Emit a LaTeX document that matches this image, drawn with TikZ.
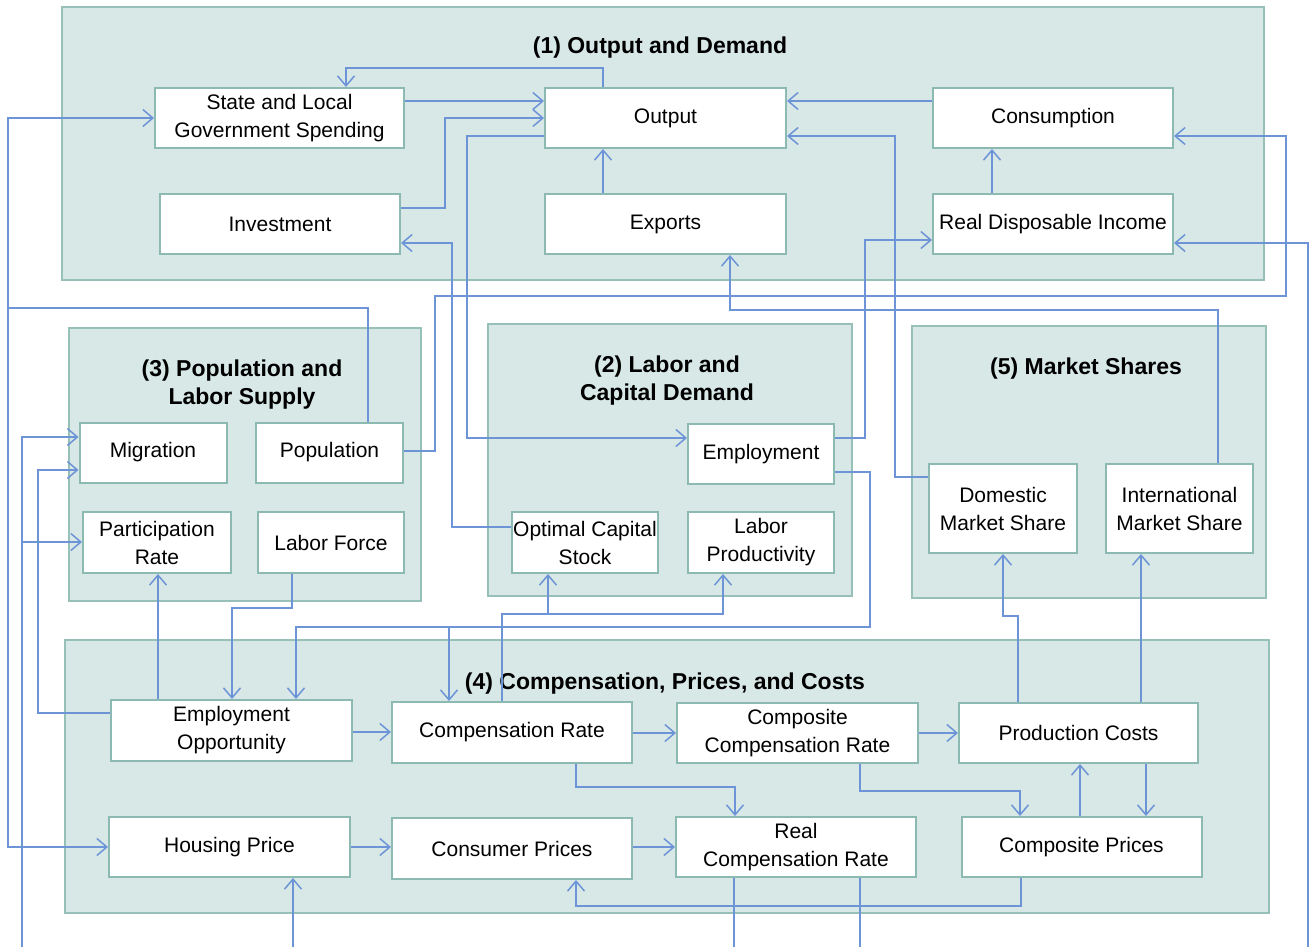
\documentclass[tikz,border=0pt]{standalone}
\usepackage{fontspec}
\setmainfont{Liberation Sans}
\usetikzlibrary{arrows.meta}
\definecolor{pfill}{RGB}{216,232,231}
\definecolor{pline}{RGB}{150,192,184}
\definecolor{bline}{RGB}{140,186,178}
\definecolor{conn}{RGB}{108,148,214}
\begin{document}
\begin{tikzpicture}[x=1pt,y=-1pt,
  panel/.style={draw=pline, fill=pfill, line width=2pt, inner sep=0pt},
  box/.style={draw=bline, fill=white, line width=2pt, inner sep=0pt, align=center, font=\fontsize{21}{28}\selectfont},
  ptitle/.style={font=\bfseries\fontsize{23}{28}\selectfont, align=center, inner sep=0pt},
  link/.style={draw=conn, line width=1.5pt, -{Straight Barb[length=10pt,width=17pt]}},
  plain/.style={draw=conn, line width=1.5pt}]
\useasboundingbox (0,0) rectangle (1310,947);
% panels
\node[panel, minimum width=1202pt, minimum height=273pt] (P1) at (663,143.5) {};
\node[panel, minimum width=352pt, minimum height=273pt] (P3) at (245,464.5) {};
\node[panel, minimum width=364pt, minimum height=272pt] (P2) at (670,460) {};
\node[panel, minimum width=354pt, minimum height=272pt] (P5) at (1089,462) {};
\node[panel, minimum width=1204pt, minimum height=273pt] (P4) at (667,776.5) {};
% titles
\node[ptitle] (T1) at (660,48) {(1) Output and Demand};
\node[ptitle] (T3) at (242,385) {(3) Population and\\Labor Supply};
\node[ptitle] (T2) at (667,381) {(2) Labor and\\Capital Demand};
\node[ptitle] (T5) at (1086,369) {(5) Market Shares};
\node[ptitle] (T4) at (665,684) {(4) Compensation, Prices, and Costs};
% boxes panel 1
\node[box, minimum width=249pt, minimum height=60pt] (slg) at (279.5,118) {State and Local\\Government Spending};
\node[box, minimum width=241pt, minimum height=60pt] (out) at (665.5,118) {Output};
\node[box, minimum width=240pt, minimum height=60pt] (cons) at (1053,118) {Consumption};
\node[box, minimum width=240pt, minimum height=60pt] (inv) at (280,224) {Investment};
\node[box, minimum width=241pt, minimum height=60pt] (exp) at (665.5,224) {Exports};
\node[box, minimum width=240pt, minimum height=60pt] (rdi) at (1053,224) {Real Disposable Income};
% panel 3
\node[box, minimum width=147pt, minimum height=60pt] (mig) at (153,452.5) {Migration};
\node[box, minimum width=147pt, minimum height=60pt] (pop) at (329.5,452.5) {Population};
\node[box, minimum width=148pt, minimum height=61pt] (part) at (157,542.5) {Participation\\Rate};
\node[box, minimum width=146pt, minimum height=61pt] (lf) at (331,542.5) {Labor Force};
% panel 2
\node[box, minimum width=146pt, minimum height=60pt] (emp) at (761,454) {Employment};
\node[box, minimum width=146pt, minimum height=61pt] (ocs) at (585,542.5) {Optimal Capital\\Stock};
\node[box, minimum width=146pt, minimum height=61pt] (lp) at (761,542.5) {Labor\\Productivity};
% panel 5
\node[box, minimum width=148pt, minimum height=89pt] (dms) at (1003,508.5) {Domestic\\Market Share};
\node[box, minimum width=147pt, minimum height=89pt] (ims) at (1179.5,508.5) {International\\Market Share};
% panel 4
\node[box, minimum width=241pt, minimum height=61pt] (eo) at (231.5,730.5) {Employment\\Opportunity};
\node[box, minimum width=240pt, minimum height=61pt] (cr) at (512,732.5) {Compensation Rate};
\node[box, minimum width=241pt, minimum height=60pt] (ccr) at (797.5,733) {Composite\\Compensation Rate};
\node[box, minimum width=239pt, minimum height=60pt] (pc) at (1078.5,733) {Production Costs};
\node[box, minimum width=241pt, minimum height=60pt] (hp) at (229.5,847) {Housing Price};
\node[box, minimum width=240pt, minimum height=61pt] (cp) at (512,848.5) {Consumer Prices};
\node[box, minimum width=240pt, minimum height=60pt] (rcr) at (796,847) {Real\\Compensation Rate};
\node[box, minimum width=240pt, minimum height=60pt] (cpr) at (1081.5,847) {Composite Prices};
% free ends at the picture's border
\coordinate (b1) at (22,947);
\coordinate (b2) at (293,947);
\coordinate (b3) at (734,947);
\coordinate (b4) at (860,947);
\coordinate (b5) at (1308,947);
\coordinate (j1) at (8,308);
\coordinate (j2) at (22,542);
\coordinate (j3) at (449,627);
\coordinate (j4) at (548,614);
% connectors panel 1
\draw[link] (out.north -| 603,0) -- (603,68) -- (346,68) -- (slg.north -| 346,0);
\draw[link] (slg.east |- 0,101) -- (out.west |- 0,101);
\draw[link] (inv.east |- 0,208) -- (445,208) -- (445,118) -- (out.west |- 0,118);
\draw[link] (out.west |- 0,136) -- (467,136) -- (467,438) -- (emp.west |- 0,438);
\draw[link] (ocs.west |- 0,527) -- (452,527) -- (452,243) -- (inv.east |- 0,243);
\draw[link] (cons.west |- 0,101) -- (out.east |- 0,101);
\draw[link] (dms.west |- 0,477) -- (895,477) -- (895,136) -- (out.east |- 0,136);
\draw[link] (rdi.north -| 992,0) -- (cons.south -| 992,0);
\draw[link] (pop.east |- 0,451) -- (435,451) -- (435,296) -- (1286,296) -- (1286,136) -- (cons.east |- 0,136);
\draw[link] (b5) -- (1308,243) -- (rdi.east |- 0,243);
\draw[link] (emp.east |- 0,438) -- (865,438) -- (865,240) -- (rdi.west |- 0,240);
\draw[link] (ims.north -| 1218,0) -- (1218,310) -- (730,310) -- (exp.south -| 730,0);
\draw[link] (exp.north -| 603,0) -- (out.south -| 603,0);
% left side
\draw[plain] (pop.north -| 368,0) -- (368,308) -- (j1);
\draw[link] (j1) |- (slg.west);
\draw[link] (j1) |- (hp.west);
\draw[link] (b1) -- (22,437) -- (mig.west |- 0,437);
\draw[link] (j2) -- (part.west |- j2);
\draw[link] (eo.west |- 0,713) -- (38,713) -- (38,470) -- (mig.west |- 0,470);
\draw[link] (eo.north -| 158,0) -- (part.south -| 158,0);
\draw[link] (lf.south -| 292,0) -- (292,608) -- (232,608) -- (eo.north -| 232,0);
\draw[link] (emp.east |- 0,472) -- (870,472) -- (870,627) -- (296,627) -- (eo.north -| 296,0);
\draw[link] (j3) -- (cr.north -| j3);
\draw[link] (cr.north -| 502,0) -- (502,614) -- (723,614) -- (lp.south -| 723,0);
\draw[link] (j4) -- (ocs.south -| j4);
% panel 4
\draw[link] (eo.east |- 0,732) -- (cr.west |- 0,732);
\draw[link] (cr.east |- 0,733) -- (ccr.west |- 0,733);
\draw[link] (ccr.east |- 0,733) -- (pc.west |- 0,733);
\draw[link] (cr.south -| 576,0) -- (576,787) -- (735,787) -- (rcr.north -| 735,0);
\draw[link] (ccr.south -| 860,0) -- (860,791) -- (1020,791) -- (cpr.north -| 1020,0);
\draw[link] (cpr.north -| 1080,0) -- (pc.south -| 1080,0);
\draw[link] (pc.south -| 1146,0) -- (cpr.north -| 1146,0);
\draw[link] (pc.north -| 1018,0) -- (1018,616) -- (1003,616) -- (dms.south -| 1003,0);
\draw[link] (pc.north -| 1141,0) -- (ims.south -| 1141,0);
\draw[link] (hp.east |- 0,847) -- (cp.west |- 0,847);
\draw[link] (cp.east |- 0,847) -- (rcr.west |- 0,847);
\draw[link] (cpr.south -| 1021,0) -- (1021,906) -- (576,906) -- (cp.south -| 576,0);
\draw[link] (b2) -- (hp.south -| b2);
\draw[plain] (rcr.south -| b3) -- (b3);
\draw[plain] (rcr.south -| b4) -- (b4);
\end{tikzpicture}
\end{document}
